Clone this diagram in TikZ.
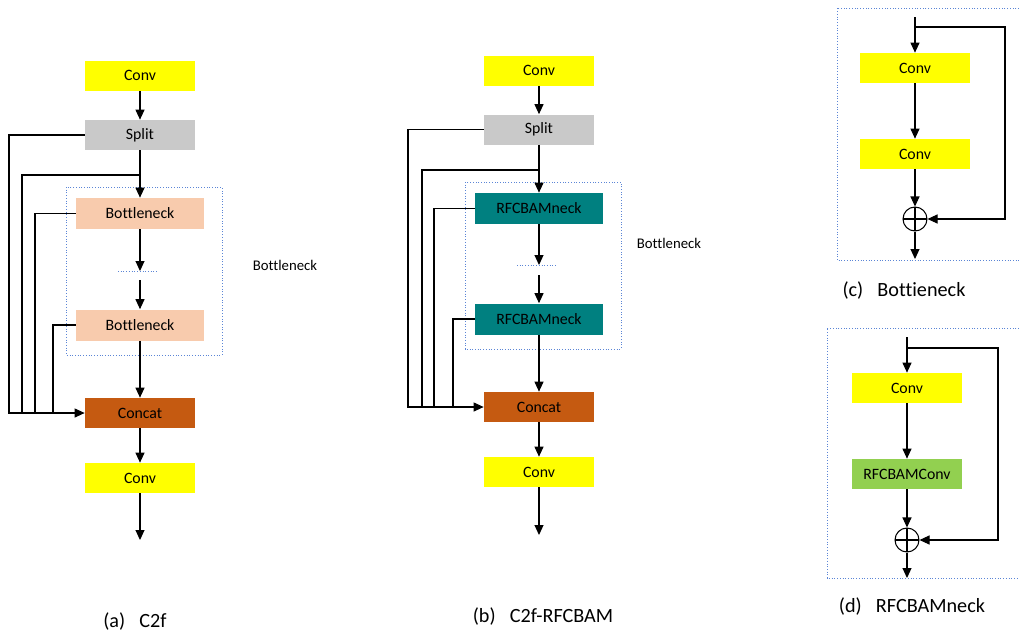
\documentclass[tikz,border=0pt]{standalone}
\usepackage{fontspec}
\setmainfont[Ligatures=NoCommon]{Carlito}
\usetikzlibrary{arrows.meta}

\definecolor{convyellow}{HTML}{FFFF00}
\definecolor{splitgray}{HTML}{C9C9C9}
\definecolor{neckpeach}{HTML}{F8CBAD}
\definecolor{catorange}{HTML}{C55A11}
\definecolor{rfcteal}{HTML}{008080}
\definecolor{rfcgreen}{HTML}{92D050}
\definecolor{boxblue}{HTML}{5B85D6}

\begin{document}
\begin{tikzpicture}[x=0.02cm,y=-0.02cm,
  blk/.style={rectangle,inner sep=0pt,minimum width=2.2cm,minimum height=0.6cm,
    font=\fontsize{9}{10}\selectfont},
  conv/.style={blk,fill=convyellow},
  split/.style={blk,fill=splitgray},
  bneck/.style={blk,fill=neckpeach,minimum width=2.56cm,minimum height=0.62cm},
  rfneck/.style={blk,fill=rfcteal,minimum width=2.56cm,minimum height=0.62cm},
  rfconv/.style={blk,fill=rfcgreen},
  concat/.style={blk,fill=catorange},
  sum/.style={circle,draw,line width=0.6pt,minimum size=0.48cm,inner sep=0pt,
    path picture={\draw[line width=0.6pt] (path picture bounding box.north) -- (path picture bounding box.south)
      (path picture bounding box.west) -- (path picture bounding box.east);}},
  arr/.style={line width=0.6pt,-{Triangle[width=0.18cm,length=0.2cm]}},
  wire/.style={line width=0.6pt},
  dotbox/.style={boxblue,densely dotted,line width=0.55pt},
  side/.style={font=\fontsize{8.4}{10}\selectfont},
  capt/.style={font=\fontsize{11.5}{13}\selectfont}]
\useasboundingbox (0,0) rectangle (1019,637);
%(a) C2f
\node[conv]   (convA1) at (140,75.5) {Conv};
\node[split]  (splitA) at (140,135)  {Split};
\node[bneck]  (bnA1)   at (140,213.5){Bottleneck};
\node[bneck]  (bnA2)   at (140,325)  {Bottleneck};
\node[concat] (catA)   at (140,413)  {Concat};
\node[conv]   (convA2) at (140,478)  {Conv};
\coordinate (brA)   at (140,175);
\coordinate (dotA1) at (140,271);
\coordinate (dotA2) at (140,280);
\coordinate (outA)  at (140,540);
\draw[dotbox] (66,187) rectangle (222,355);
\draw[dotbox] (118,271) -- (158,271);
\node[side] (lblA) at (285,265) {Bottleneck};
\node[capt] (capA) at (135,622) {(a)\hspace{0.7em}C2f};
\draw[arr] (convA1) -- (splitA);
\draw[arr] (splitA) -- (bnA1);
\draw[arr] (bnA1) -- (dotA1);
\draw[arr] (dotA2) -- (bnA2);
\draw[arr] (bnA2) -- (catA);
\draw[arr] (catA) -- (convA2);
\draw[arr] (convA2) -- (outA);
\draw[arr] (splitA.west) -| (9,413) -- (catA.west);
\draw[wire] (brA) -| (22,413);
\draw[wire] (bnA1.west) -| (35,413);
\draw[wire] (bnA2.west) -| (53,413);
%(b) C2f-RFCBAM
\node[conv]   (convB1) at (539,70.5) {Conv};
\node[split]  (splitB) at (539,129.5){Split};
\node[rfneck] (rnB1)   at (539,208.5){RFCBAMneck};
\node[rfneck] (rnB2)   at (539,319)  {RFCBAMneck};
\node[concat] (catB)   at (539,407)  {Concat};
\node[conv]   (convB2) at (539,472)  {Conv};
\coordinate (brB)   at (539,170);
\coordinate (dotB1) at (539,265);
\coordinate (dotB2) at (539,275);
\coordinate (outB)  at (539,535);
\draw[dotbox] (465,182) rectangle (621,349);
\draw[dotbox] (517,265) -- (557,265);
\node[side] (lblB) at (669,243) {Bottleneck};
\node[capt] (capB) at (543,617) {(b)\hspace{0.7em}C2f-RFCBAM};
\draw[arr] (convB1) -- (splitB);
\draw[arr] (splitB) -- (rnB1);
\draw[arr] (rnB1) -- (dotB1);
\draw[arr] (dotB2) -- (rnB2);
\draw[arr] (rnB2) -- (catB);
\draw[arr] (catB) -- (convB2);
\draw[arr] (convB2) -- (outB);
\draw[arr] (splitB.west) -| (408,407) -- (catB.west);
\draw[wire] (brB) -| (422,407);
\draw[wire] (rnB1.west) -| (434,407);
\draw[wire] (rnB2.west) -| (453,407);
%(c) Bottleneck
\draw[dotbox] (1019,8) -- (837,8) -- (837,260) -- (1019,260);
\node[conv] (convC1) at (915,68)  {Conv};
\node[conv] (convC2) at (915,154) {Conv};
\node[sum]  (sumC)   at (915,219) {};
\coordinate (inC)   at (915,17);
\coordinate (skipC) at (915,27);
\coordinate (outC)  at (915,259);
\node[capt] (capC) at (904,291) {(c)\hspace{0.7em}Bottieneck};
\draw[arr] (inC) -- (convC1);
\draw[arr] (convC1) -- (convC2);
\draw[arr] (convC2) -- (sumC);
\draw[arr] (sumC) -- (outC);
\draw[arr] (skipC) -| (1005,219) -- (sumC.east);
%(d) RFCBAMneck
\draw[dotbox] (1019,328) -- (827,328) -- (827,578) -- (1019,578);
\node[conv]   (convD) at (907,388) {Conv};
\node[rfconv] (rfcD)  at (907,474) {RFCBAMConv};
\node[sum]    (sumD)  at (907,540) {};
\coordinate (inD)   at (907,337);
\coordinate (skipD) at (907,348);
\coordinate (outD)  at (907,578);
\node[capt] (capD) at (912,607) {(d)\hspace{0.7em}RFCBAMneck};
\draw[arr] (inD) -- (convD);
\draw[arr] (convD) -- (rfcD);
\draw[arr] (rfcD) -- (sumD);
\draw[arr] (sumD) -- (outD);
\draw[arr] (skipD) -| (998,540) -- (sumD.east);
\end{tikzpicture}
\end{document}
